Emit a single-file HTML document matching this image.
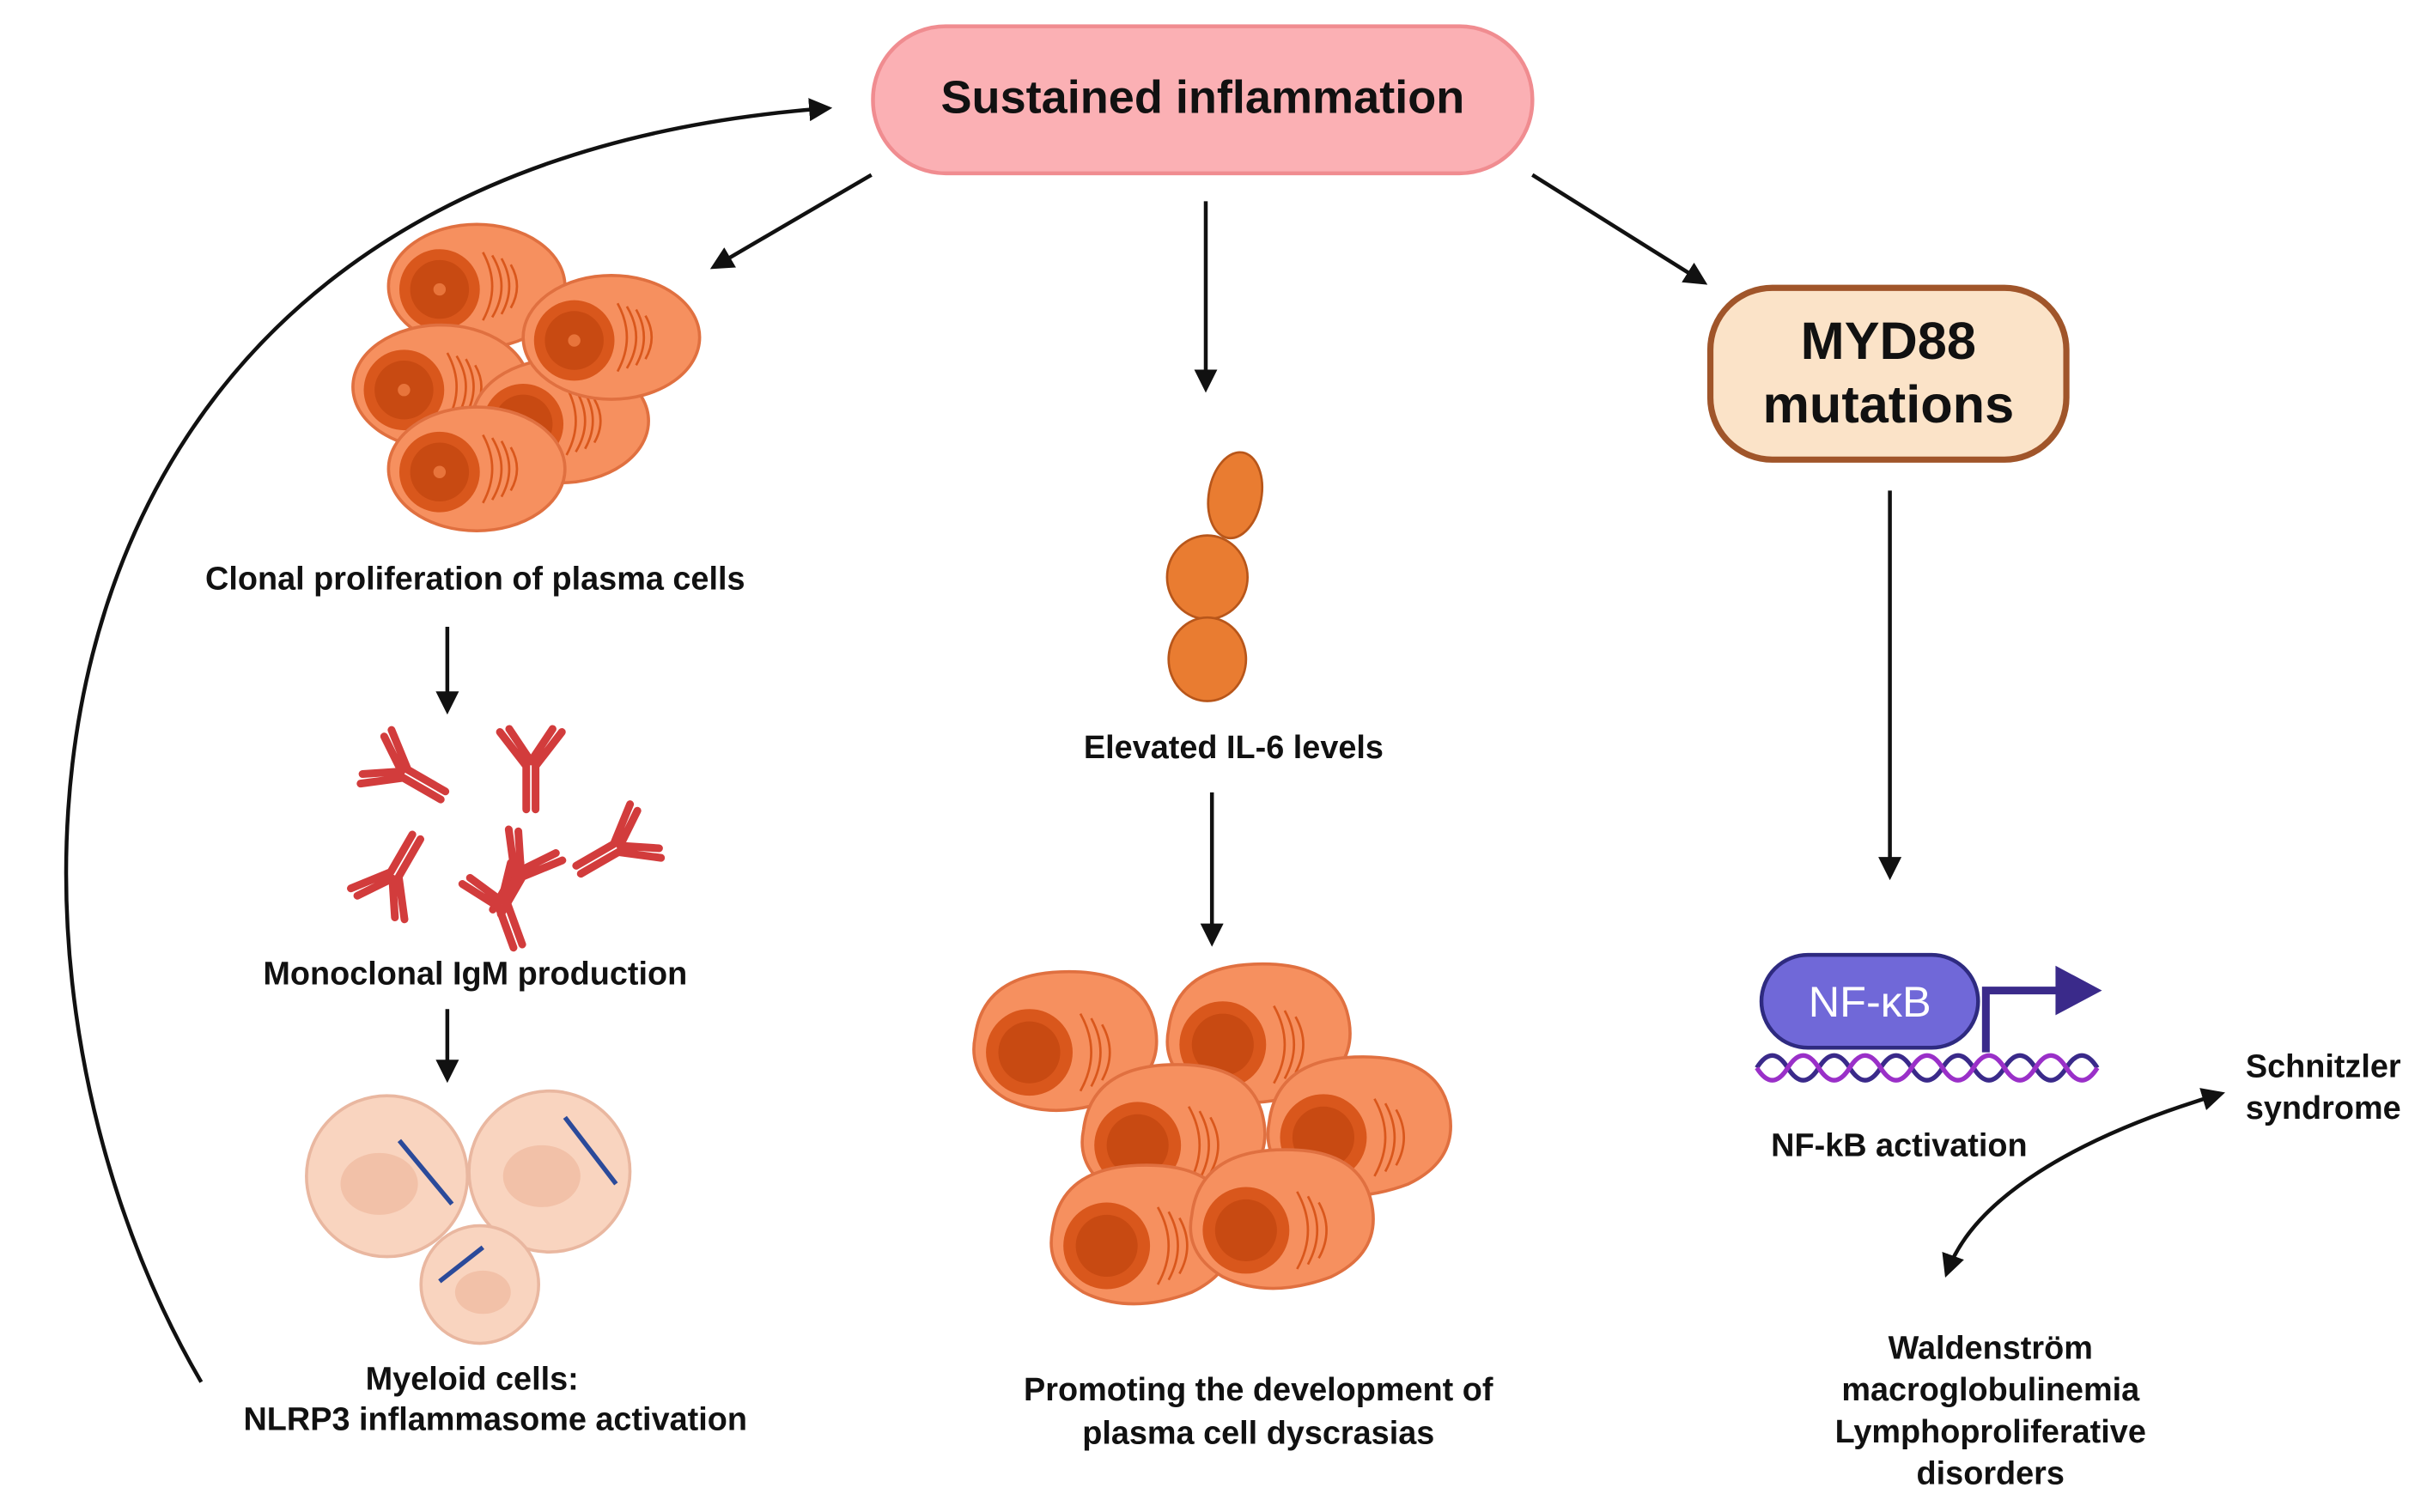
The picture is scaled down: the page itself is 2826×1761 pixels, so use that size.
<!DOCTYPE html>
<html><head><meta charset="utf-8"><style>
html,body{margin:0;padding:0;background:#fff}
svg{display:block}
text{font-family:"Liberation Sans",sans-serif;font-weight:bold;fill:#111}
</style></head><body>
<svg width="2826" height="1761" viewBox="0 0 1568 977" preserveAspectRatio="none" xmlns="http://www.w3.org/2000/svg">
<defs>
<marker id="ah" markerWidth="6" markerHeight="6" refX="4.5" refY="3" orient="auto" markerUnits="strokeWidth">
<path d="M0,0 L6,3 L0,6 z" fill="#111"/></marker>
<marker id="ahs" markerWidth="6" markerHeight="6" refX="4.5" refY="3" orient="auto-start-reverse" markerUnits="strokeWidth">
<path d="M0,0 L6,3 L0,6 z" fill="#111"/></marker>
<g id="pc">
<ellipse cx="0" cy="0" rx="57" ry="40" fill="#f6905f" stroke="#e07040" stroke-width="2"/>
<ellipse cx="-24" cy="2" rx="26" ry="26" fill="#d9571c"/>
<ellipse cx="-24" cy="2" rx="19" ry="19" fill="#c84a12"/>
<circle cx="-24" cy="2" r="4" fill="#e8743b"/>
<path d="M4,-22 q12,22 0,44 M10,-20 q12,20 0,40 M16,-18 q10,18 0,36 M22,-14 q8,14 0,28" stroke="#d9571c" stroke-width="1.5" fill="none"/>
</g>
<g id="pc2">
<path d="M-60,-10 q5,-40 55,-42 q50,-2 60,30 q10,35 -25,52 q-40,15 -70,0 q-25,-15 -20,-40z" fill="#f6905f" stroke="#e07040" stroke-width="2"/>
<circle cx="-25" cy="0" r="28" fill="#d9571c"/>
<circle cx="-25" cy="0" r="20" fill="#c84a12"/>
<path d="M8,-25 q14,25 0,50 M15,-22 q12,22 0,44 M22,-18 q10,18 0,36" stroke="#d9571c" stroke-width="1.5" fill="none"/>
</g>
<g id="ab" stroke="#d23c3c" stroke-width="5" fill="none" stroke-linecap="round">
<path d="M-3,0 V28 M3,0 V28 M-3,0 L-20,-22 M0,-3 L-14,-24 M3,0 L20,-22 M0,-3 L14,-24"/>
</g>
</defs>

<rect x="564" y="17" width="426" height="95" rx="47" fill="#fbb0b4" stroke="#f08c90" stroke-width="2.5"/>
<text x="777" y="73" font-size="30" text-anchor="middle">Sustained inflammation</text>

<g stroke="#111" stroke-width="2.5" fill="none">
<line x1="563" y1="113" x2="462" y2="172" marker-end="url(#ah)"/>
<line x1="779" y1="130" x2="779" y2="250" marker-end="url(#ah)"/>
<line x1="990" y1="113" x2="1100" y2="182" marker-end="url(#ah)"/>
<line x1="1221" y1="317" x2="1221" y2="565" marker-end="url(#ah)"/>
<line x1="289" y1="405" x2="289" y2="458" marker-end="url(#ah)"/>
<line x1="289" y1="652" x2="289" y2="696" marker-end="url(#ah)"/>
<line x1="783" y1="512" x2="783" y2="608" marker-end="url(#ah)"/>
<path d="M130,893 C-30,620 -10,110 534,70" marker-end="url(#ah)"/>
<path d="M1434,707 C1340,735 1275,775 1258,822" marker-end="url(#ah)" marker-start="url(#ahs)"/>
</g>

<rect x="1105" y="186" width="230" height="111" rx="40" fill="#fbe3c8" stroke="#a0552a" stroke-width="4"/>
<text x="1220" y="232" font-size="34" text-anchor="middle">MYD88</text>
<text x="1220" y="273" font-size="34" text-anchor="middle">mutations</text>

<use href="#pc" transform="translate(308,185)"/>
<use href="#pc" transform="translate(285,250)"/>
<use href="#pc" transform="translate(362,272)"/>
<use href="#pc" transform="translate(395,218)"/>
<use href="#pc" transform="translate(308,303)"/>
<text x="307" y="381" font-size="21" text-anchor="middle">Clonal proliferation of plasma cells</text>

<use href="#ab" transform="translate(262,500) rotate(-60)"/>
<use href="#ab" transform="translate(343,495)"/>
<use href="#ab" transform="translate(255,565) rotate(-150)"/>
<use href="#ab" transform="translate(335,565) rotate(30)"/>
<use href="#ab" transform="translate(398,548) rotate(60)"/>
<use href="#ab" transform="translate(325,585) rotate(-20)"/>
<text x="307" y="636" font-size="21" text-anchor="middle">Monoclonal IgM production</text>

<g stroke="#e9b7a0" stroke-width="2" fill="#f9d4bf">
<circle cx="250" cy="760" r="52"/><circle cx="355" cy="757" r="52"/><circle cx="310" cy="830" r="38"/>
</g>
<g fill="#f2c1a8"><ellipse cx="245" cy="765" rx="25" ry="20"/><ellipse cx="350" cy="760" rx="25" ry="20"/><ellipse cx="312" cy="835" rx="18" ry="14"/></g>
<g stroke="#2b4a9a" stroke-width="3"><line x1="258" y1="737" x2="292" y2="778"/><line x1="365" y1="722" x2="398" y2="765"/><line x1="284" y1="828" x2="312" y2="806"/></g>
<text x="305" y="898" font-size="21" text-anchor="middle">Myeloid cells:</text>
<text x="320" y="924" font-size="21" text-anchor="middle">NLRP3 inflammasome activation</text>

<g fill="#e97c31" stroke="#b8561a" stroke-width="1.5">
<ellipse cx="798" cy="320" rx="17" ry="28" transform="rotate(10 798 320)"/>
<ellipse cx="780" cy="373" rx="26" ry="27"/>
<ellipse cx="780" cy="426" rx="25" ry="27"/>
</g>
<text x="797" y="490" font-size="21" text-anchor="middle">Elevated IL-6 levels</text>

<use href="#pc2" transform="translate(690,680)"/>
<use href="#pc2" transform="translate(815,675)"/>
<use href="#pc2" transform="translate(760,740)"/>
<use href="#pc2" transform="translate(880,735)"/>
<use href="#pc2" transform="translate(740,805)"/>
<use href="#pc2" transform="translate(830,795)"/>
<text x="813" y="905" font-size="21" text-anchor="middle">Promoting the development of</text>
<text x="813" y="933" font-size="21" text-anchor="middle">plasma cell dyscrasias</text>

<path d="M1135,690 q10,-16 20,0 t20,0 t20,0 t20,0 t20,0 t20,0 t20,0 t20,0 t20,0 t20,0 t20,0" stroke="#3a2a8a" stroke-width="3" fill="none"/>
<path d="M1135,690 q10,16 20,0 t20,0 t20,0 t20,0 t20,0 t20,0 t20,0 t20,0 t20,0 t20,0 t20,0" stroke="#9a30c8" stroke-width="3" fill="none"/>
<rect x="1138" y="617" width="140" height="60" rx="30" fill="#7068d8" stroke="#2e2a80" stroke-width="2.5"/>
<text x="1208" y="657" font-size="28" text-anchor="middle" style="fill:#fff;font-weight:normal">NF-κB</text>
<path d="M1283,680 V640 H1330" stroke="#3a2a8a" stroke-width="5" fill="none"/>
<path d="M1328,624 L1358,640 L1328,656z" fill="#3a2a8a"/>
<text x="1227" y="747" font-size="21" text-anchor="middle">NF-kB activation</text>

<text x="1501" y="696" font-size="21" text-anchor="middle">Schnitzler</text>
<text x="1501" y="723" font-size="21" text-anchor="middle">syndrome</text>
<text x="1286" y="878" font-size="21" text-anchor="middle">Waldenström</text>
<text x="1286" y="905" font-size="21" text-anchor="middle">macroglobulinemia</text>
<text x="1286" y="932" font-size="21" text-anchor="middle">Lymphoproliferative</text>
<text x="1286" y="959" font-size="21" text-anchor="middle">disorders</text>
</svg>
</body></html>
